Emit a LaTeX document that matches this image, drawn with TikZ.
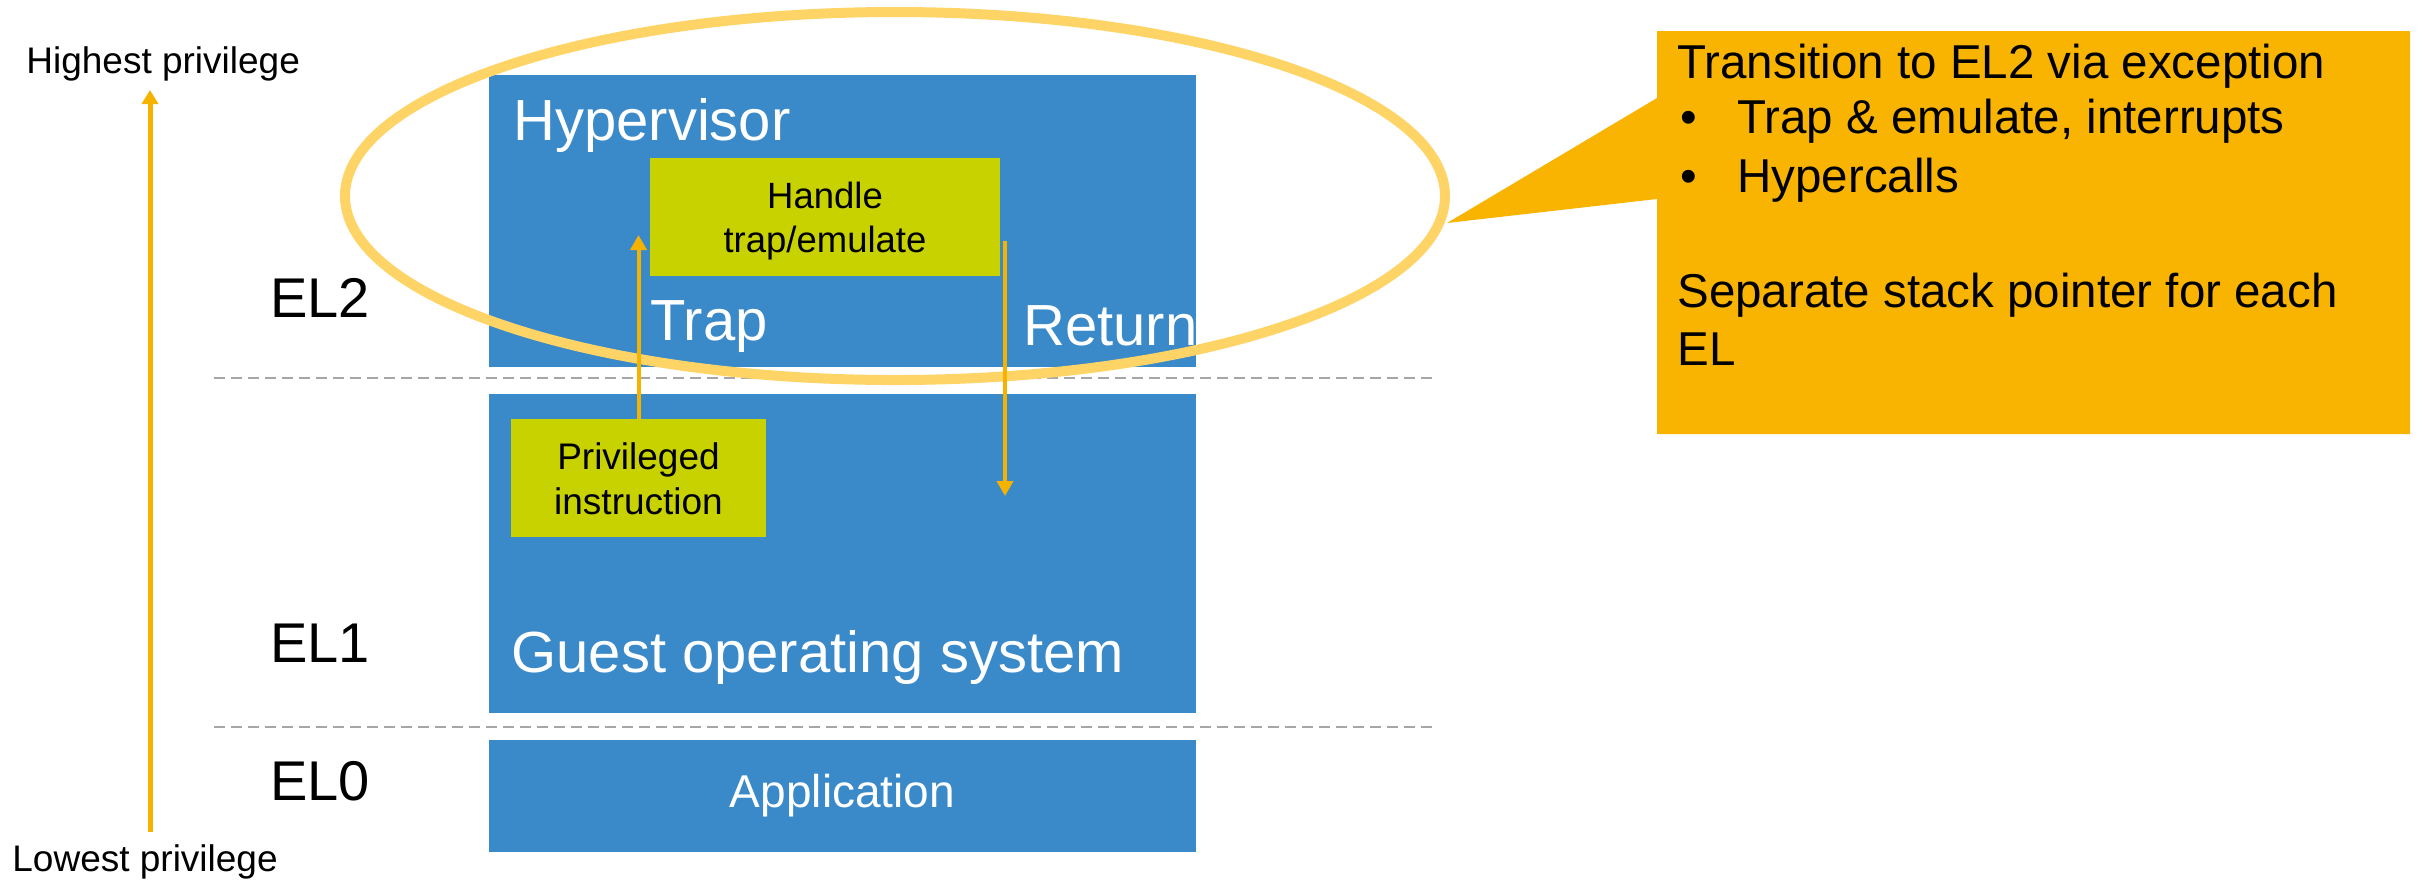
\documentclass[tikz,border=0pt]{standalone}
\usepackage{fontspec}
\setmainfont{Liberation Sans}
\usetikzlibrary{arrows.meta}
\definecolor{armblue}{HTML}{3A89C9}
\definecolor{limec}{HTML}{C8D200}
\definecolor{calloutc}{HTML}{F8B400}
\definecolor{ringc}{HTML}{FFD466}
\definecolor{arrowc}{HTML}{F5B300}
\definecolor{dashgray}{HTML}{A6A6A6}
\newcommand{\myfs}[2]{\fontsize{#1}{#2}\selectfont}
\begin{document}
\begin{tikzpicture}[x=0.5pt,y=-0.5pt,
  bluebox/.style={fill=armblue, draw=none, inner sep=0pt},
  limebox/.style={fill=limec, draw=none, inner sep=0pt},
  limetext/.style={inner sep=0pt, align=center, font=\myfs{18.25pt}{21.75pt}},
  lbl/.style={inner sep=0pt, anchor=base west},
  bigwhite/.style={lbl, text=white, font=\myfs{29pt}{34pt}},
  ellabel/.style={lbl, font=\myfs{28pt}{32pt}},
  privlabel/.style={lbl, font=\myfs{18.5pt}{22pt}},
  ctext/.style={lbl, font=\myfs{23.75pt}{29pt}},
  sep/.style={draw=dashgray, line width=1.25pt, dash pattern=on 5.5pt off 3pt},
  flow/.style={draw=arrowc, line width=2pt, -{Triangle[length=7.5pt,width=8pt]}},
]
\useasboundingbox (0,0) rectangle (2423,880);

% left privilege axis
\node[privlabel] (high) at (26,73) {Highest privilege};
\node[privlabel] (low) at (12,871) {Lowest privilege};
\coordinate (axbot) at (150,832);
\coordinate (axtop) at (150,90);
\draw[draw=arrowc, line width=2.5pt, -{Triangle[length=7pt,width=8pt]}] (axbot) -- (axtop);

% EL labels
\node[ellabel] (el2) at (270,317) {EL2};
\node[ellabel] (el1) at (270,662) {EL1};
\node[ellabel] (el0) at (270,800) {EL0};

% separators
\coordinate (s1a) at (214,378); \coordinate (s1b) at (1434,378);
\coordinate (s2a) at (214,727); \coordinate (s2b) at (1434,727);
\draw[sep] (s1a) -- (s1b);
\draw[sep] (s2a) -- (s2b);

% blue boxes
\node[bluebox, minimum width=353.5pt, minimum height=146pt] (hyp) at (842.5,221) {};
\node[bluebox, minimum width=353.5pt, minimum height=159.5pt] (guest) at (842.5,553.5) {};
\node[bluebox, minimum width=353.5pt, minimum height=56pt, text=white, font=\myfs{23pt}{28pt}] (app) at (842.5,796) {Application};

\node[bigwhite] (hyplbl) at (513,140) {Hypervisor};
\node[bigwhite] (guestlbl) at (511,672) {Guest operating system};
\node[bigwhite] (traplbl) at (650,340) {Trap};
\node[bigwhite] (retlbl) at (1023,345) {Return};

% lime boxes
\node[limebox, minimum width=175pt, minimum height=59pt] (handle) at (825,217) {};
\node[limetext] (handletxt) at ([yshift=-2pt]handle.center) {Handle\\trap/emulate};
\node[limebox, minimum width=127.5pt, minimum height=59pt] (priv) at (638.5,478) {};
\node[limetext, font=\myfs{18.5pt}{22.5pt}] (privtxt) at ([yshift=-0.5pt]priv.center) {Privileged\\instruction};

% callout
\fill[calloutc] (1657,31) -- (2410,31) -- (2410,434) -- (1657,434) -- (1657,199) -- (1447,223) -- (1657,98) -- cycle;
\node[ctext] (c1) at (1677,78) {Transition to EL2 via exception};
\node[ctext] (c2b) at (1680,133) {•};
\node[ctext] (c2) at (1737,133) {Trap \& emulate, interrupts};
\node[ctext] (c3b) at (1680,192) {•};
\node[ctext] (c3) at (1737,192) {Hypercalls};
\node[ctext] (c4) at (1677,307) {Separate stack pointer for each};
\node[ctext] (c5) at (1677,365) {EL};

% highlight ring
\draw[draw=ringc, line width=5pt] (895,196) ellipse [x radius=275pt, y radius=92pt];

% trap / return arrows
\coordinate (traptip) at (priv.north |- 0,235);
\draw[flow] (priv.north) -- (traptip);
\coordinate (retstart) at (1005,241);
\coordinate (retend) at (1005,496);
\draw[flow] (retstart) -- (retend);
\end{tikzpicture}
\end{document}
